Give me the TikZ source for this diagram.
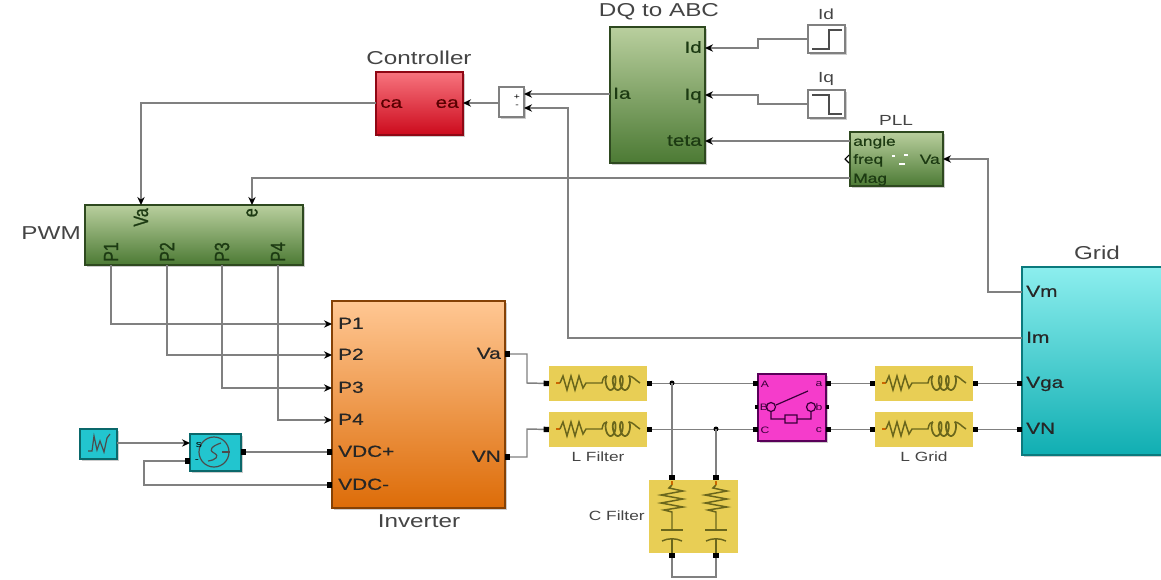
\documentclass[tikz,border=0pt]{standalone}
\usepackage{fontspec}
\usepackage{tikz}
\usetikzlibrary{positioning, arrows.meta, fit, shadows}
\setmainfont[FakeStretch=1.3]{Liberation Sans}
\newfontfamily\portfont[FakeStretch=1.3, FakeBold=0.6]{Liberation Sans}
\newfontfamily\sidefont[FakeStretch=0.77, FakeBold=1]{Liberation Sans}
\definecolor{simGreenT}{HTML}{B9CF9E}
\definecolor{simGreenB}{HTML}{4C7A34}
\definecolor{simGreenD}{HTML}{1C3A12}
\definecolor{simRedT}{HTML}{F7747E}
\definecolor{simRedB}{HTML}{CC0A1C}
\definecolor{simOrangeT}{HTML}{FFC793}
\definecolor{simOrangeB}{HTML}{DD6C08}
\definecolor{simCyanT}{HTML}{8CEEEE}
\definecolor{simCyanB}{HTML}{10AEB2}
\definecolor{simTeal}{HTML}{22C5CF}
\definecolor{simPink}{HTML}{F53CCB}
\definecolor{simYellow}{HTML}{E8CE55}
\definecolor{simOlive}{HTML}{6A661C}
\definecolor{simWire}{HTML}{808080}
\definecolor{simLabel}{HTML}{444444}
% one elementary resistor + inductor branch, left end at (#1,#2)
\newcommand{\RLbranch}[2]{%
  \begin{scope}[shift={(#1,#2)}]
    \draw[elem, draw=orange!80!black] (7,0) -- (11,0);
    \draw[elem] (11,0) -- (14,-7) -- (18,7) -- (22,-7) -- (26,7) -- (30,-7) -- (34,5) -- (37,0) -- (53,0)
      .. controls (54,-6) and (56,-7) .. (58,-7);
    \draw[elem, line width=1.3pt] plot[domain=0:1080, samples=70, smooth] ({58+0.02*\x-3*sin(\x)},{-7*cos(\x)});
    \draw[elem] (79.6,-7) .. controls (84,-7) and (86,-3) .. (91,0);
  \end{scope}}
% one resistor + capacitor branch, top end at (#1,#2)
\newcommand{\RCbranch}[2]{%
  \begin{scope}[shift={(#1,#2)}]
    \draw[elem, draw=orange!80!black] (0,1) -- (0,5);
    \draw[elem] (0,5) -- (-3,8) -- (11,11) -- (-11,15) -- (11,19) -- (-11,23) -- (11,27) -- (-8,30) -- (0,32) -- (0,50);
    \draw[elem] (-11,50) -- (11,50);
    \draw[elem] (-10,61) .. controls (-4,58) and (4,58) .. (10,61);
    \draw[elem] (0,59) -- (0,73);
  \end{scope}}
\begin{document}
\begin{tikzpicture}[
    x=0.75pt, y=-0.75pt,
    block/.style={line width=0.8pt, inner sep=0pt, outer sep=0pt,
        drop shadow={shadow xshift=1.2pt, shadow yshift=-1.2pt, opacity=0.4}},
    greenblk/.style={block, draw=simGreenB!60!black, top color=simGreenT, bottom color=simGreenB},
    redblk/.style={block, draw=simRedB!70!black, top color=simRedT, bottom color=simRedB},
    orangeblk/.style={block, draw=simOrangeB!60!black, top color=simOrangeT, bottom color=simOrangeB},
    cyanblk/.style={block, draw=simCyanB!70!black, top color=simCyanT, bottom color=simCyanB},
    tealblk/.style={block, draw=simCyanB!60!black, fill=simTeal},
    whiteblk/.style={block, fill=white, draw=gray},
    yellowblk/.style={fill=simYellow, inner sep=0pt, outer sep=0pt},
    pinkblk/.style={block, fill=simPink, draw=violet!70!black},
    toplbl/.style={font=\fontsize{14}{16}\selectfont, text=simLabel, inner sep=0pt},
    smalllbl/.style={font=\fontsize{11}{13}\selectfont, text=simLabel, inner sep=0pt},
    elemlbl/.style={font=\fontsize{10}{12}\selectfont, text=simLabel, inner sep=0pt},
    port/.style={font=\portfont\fontsize{12}{14}\selectfont, inner sep=0pt, text height=0.72em, text depth=0em},
    greenport/.style={port, text=simGreenD},
    redport/.style={port, text=red!35!black},
    blackport/.style={port, text=black!85},
    tinyport/.style={port, font=\portfont\fontsize{10}{12}\selectfont, text=simGreenD},
    sideport/.style={font=\sidefont\fontsize{15.5}{17}\selectfont, text=simGreenD, inner sep=0pt, rotate=90},
    pinkport/.style={font=\fontsize{7}{8}\selectfont, text=violet!45!black, inner sep=0pt},
    sig/.style={draw=simWire, line width=1.1pt, -{Stealth[black, length=6pt, width=5.5pt]}},
    phy/.style={draw=simWire, line width=1.1pt, {Square[black, length=4pt, width=4pt]}-{Square[black, length=4pt, width=4pt]}},
    tap/.style={draw=simWire, line width=1.1pt, -{Square[black, length=4pt, width=4pt]}},
    elem/.style={draw=simOlive, line width=1.1pt},
    glyph/.style={draw=black!70, line width=0.9pt},
]
\useasboundingbox (0,0) rectangle (1161,579);

%% Top row: controller, sum, DQ block, references, PLL
\node[redblk, fit={(376,72)(463,135)}] (ctrl) {};
\node[toplbl] (ctrlLbl) at (419,58) {Controller};
\node[redport, anchor=west] (ctrlCa) at (380,103) {ca};
\node[redport, anchor=east] (ctrlEa) at (459,103) {ea};

\node[whiteblk, fit={(499,87)(524,117)}] (sum) {};
\node[font=\fontsize{6}{6}\selectfont, inner sep=0pt] (sumPlus) at (517,97) {+};
\node[font=\fontsize{6}{6}\selectfont, inner sep=0pt] (sumMinus) at (517,106) {-};

\node[greenblk, fit={(610,27)(705,163)}] (dq) {};
\node[toplbl] (dqLbl) at (659,12) {DQ to ABC};
\node[greenport, anchor=west] (dqIa) at (613,94) {Ia};
\node[greenport, anchor=east] (dqId) at (702,48) {Id};
\node[greenport, anchor=east] (dqIq) at (702,95) {Iq};
\node[greenport, anchor=east] (dqTeta) at (702,141) {teta};

\node[whiteblk, fit={(808,25)(845,53)}] (stepId) {};
\node[smalllbl] (stepIdLbl) at (826,14) {Id};
\draw[glyph] (812,49) -- (829,49) -- (829,30) -- (842,30);
\node[whiteblk, fit={(808,90)(845,118)}] (stepIq) {};
\node[smalllbl] (stepIqLbl) at (826,79) {Iq};
\draw[glyph] (812,95) -- (829,95) -- (829,114) -- (842,114);

\node[greenblk, fit={(850,132)(943,186)}] (pll) {};
\node[smalllbl] (pllLbl) at (896,120) {PLL};
\node[tinyport, anchor=west] (pllAngle) at (853,141) {angle};
\node[tinyport, anchor=west] (pllFreq) at (853,159) {freq};
\node[tinyport, anchor=west] (pllMag) at (853,178) {Mag};
\node[tinyport, anchor=east] (pllVa) at (940,159) {Va};
\draw[black, line width=0.8pt] (849,155) -- (845,159) -- (849,163);
\draw[white, line width=0.8pt] (892,156) -- (895,156) (904,155) -- (908,155) (899,164) -- (905,164);

\draw[sig] (sum.west |- ctrlEa) -- (ctrl.east |- ctrlEa);
\draw[sig] (dq.west |- dqIa) -- (sum.east |- dqIa);
\draw[sig] (stepId.west) -- (758,39) -- (758,48) -- (dq.east |- dqId);
\draw[sig] (stepIq.west) -- (758,104) -- (758,95) -- (dq.east |- dqIq);
\draw[sig] (pll.west |- pllAngle) -- (dq.east |- dqTeta);

%% PWM
\node[greenblk, fit={(85,205)(303,265)}] (pwm) {};
\node[toplbl, anchor=east] (pwmLbl) at (81,233) {PWM};
\node[sideport, anchor=east] (pwmVa) at (141,208) {Va};
\node[sideport, anchor=east] (pwmE) at (252,208) {e};
\node[sideport, anchor=west] (pwmP1) at (111,262) {P1};
\node[sideport, anchor=west] (pwmP2) at (167,262) {P2};
\node[sideport, anchor=west] (pwmP3) at (222,262) {P3};
\node[sideport, anchor=west] (pwmP4) at (278,262) {P4};

\draw[sig] (ctrl.west |- ctrlCa) -| (pwmVa.east |- pwm.north);
\draw[sig] (pll.west |- pllMag) -| (pwmE.east |- pwm.north);

%% Inverter
\node[orangeblk, fit={(332,301)(505,508)}] (inv) {};
\node[toplbl] (invLbl) at (419,521) {Inverter};
\node[blackport, anchor=west] (invP1) at (338,324) {P1};
\node[blackport, anchor=west] (invP2) at (338,355) {P2};
\node[blackport, anchor=west] (invP3) at (338,388) {P3};
\node[blackport, anchor=west] (invP4) at (338,420) {P4};
\node[blackport, anchor=west] (invDp) at (338,452) {VDC+};
\node[blackport, anchor=west] (invDm) at (338,485) {VDC-};
\node[blackport, anchor=east] (invVa) at (501,354) {Va};
\node[blackport, anchor=east] (invVn) at (501,457) {VN};

\draw[sig] (pwmP1.west |- pwm.south) |- (inv.west |- invP1);
\draw[sig] (pwmP2.west |- pwm.south) |- (inv.west |- invP2);
\draw[sig] (pwmP3.west |- pwm.south) |- (inv.west |- invP3);
\draw[sig] (pwmP4.west |- pwm.south) |- (inv.west |- invP4);

%% DC source
\node[tealblk, fit={(80,429)(117,459)}] (rep) {};
\draw[glyph] (88,451) -- (92,451) -- (94,436) -- (97,450) -- (100,441) -- (104,452) -- (107,438) -- (110,434);
\node[tealblk, fit={(190,434)(241,471)}] (dc) {};
\draw[glyph] (214,452) circle[radius=15];
\draw[glyph] (221,443) .. controls (212,446) and (208,450) .. (214,453) .. controls (220,456) and (216,460) .. (208,461);
\draw[glyph] (222,452) -- (230,452);
\node[font=\fontsize{7}{8}\selectfont, inner sep=0pt] (dcS) at (199,445) {s};
\node[font=\fontsize{7}{8}\selectfont, inner sep=0pt] (dcM) at (197,461) {-};

\draw[sig] (rep.east |- 0,443) -- (dc.west |- 0,443);
\draw[phy] (dc.east |- invDp) -- (inv.west |- invDp);
\draw[phy] (dc.west |- 0,461) -- (144,461) |- (inv.west |- invDm);

%% Filter, breaker and grid side
\node[yellowblk, fit={(549,366)(647,401)}] (lfA) {};
\node[yellowblk, fit={(549,412)(647,447)}] (lfN) {};
\node[elemlbl] (lfLbl) at (598,457) {L Filter};
\RLbranch{549}{383}
\RLbranch{549}{429}

\node[yellowblk, fit={(649,480)(738,553)}] (cf) {};
\node[elemlbl, anchor=east] (cfLbl) at (645,516) {C Filter};
\RCbranch{672}{480}
\RCbranch{716}{480}

\node[pinkblk, fit={(758,374)(826,441)}] (brk) {};
\node[pinkport] (brkA) at (765,384) {A};
\node[pinkport] (brkB) at (764,407) {B};
\node[pinkport] (brkC) at (765,430) {C};
\node[pinkport] (brkLa) at (819,384) {a};
\node[pinkport] (brkLb) at (819,407) {b};
\node[pinkport] (brkLc) at (819,430) {c};
\draw[glyph, draw=violet!45!black] (771,407) circle[radius=4.5] (811,407) circle[radius=4.5]
    (776,405) -- (808,391)
    (771,411.5) -- (771,419) -- (785,419) (797,419) -- (811,419) -- (811,411.5)
    (785,415) rectangle (797,423);
\draw[black, line width=3pt] (755,407) -- (758,407) (826,407) -- (829,407);

\node[yellowblk, fit={(875,366)(973,401)}] (lgA) {};
\node[yellowblk, fit={(875,412)(973,447)}] (lgN) {};
\node[elemlbl] (lgLbl) at (924,457) {L Grid};
\RLbranch{875}{383}
\RLbranch{875}{429}

\node[cyanblk, fit={(1022,267)(1164,455)}] (grid) {};
\node[toplbl] (gridLbl) at (1097,253) {Grid};
\node[blackport, anchor=west] (gridVm) at (1026,292) {Vm};
\node[blackport, anchor=west] (gridIm) at (1026,338) {Im};
\node[blackport, anchor=west] (gridVga) at (1026,383) {Vga};
\node[blackport, anchor=west] (gridVn) at (1026,429) {VN};

\draw[sig] (grid.west |- gridIm) -| (568,108) -- (sum.east |- 0,108);
\draw[sig] (grid.west |- gridVm) -| (988,159) |- (pll.east |- pllVa);

\draw[phy] (inv.east |- invVa) -| (527,383) -- (lfA.west);
\draw[phy] (inv.east |- invVn) -| (527,429) -- (lfN.west);
\draw[phy] (lfA.east) -- (brk.west |- lfA);
\draw[phy] (lfN.east) -- (brk.west |- lfN);
\draw[phy] (brk.east |- lgA) -- (lgA.west);
\draw[phy] (brk.east |- lgN) -- (lgN.west);
\draw[phy] (lgA.east) -- (grid.west |- lgA);
\draw[phy] (lgN.east) -- (grid.west |- lgN);

\fill[black] (672,383) circle[radius=2.5] (716,429) circle[radius=2.5];
\draw[tap] (672,383) -- (cf.north -| 672,0);
\draw[tap] (716,429) -- (cf.north -| 716,0);
\draw[phy] (cf.south -| 672,0) -- (672,577) -- (716,577) -- (cf.south -| 716,0);

\end{tikzpicture}
\end{document}
